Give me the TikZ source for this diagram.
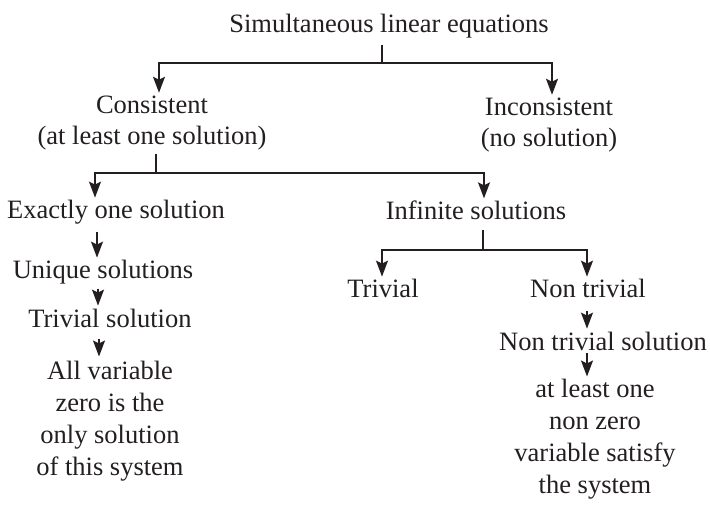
\documentclass[tikz,border=0pt]{standalone}
\usepackage{fontspec}
\setmainfont{Liberation Serif}
\usetikzlibrary{arrows.meta}
\definecolor{ink}{RGB}{35,31,32}
\begin{document}
\begin{tikzpicture}[x=1pt,y=-1pt,
  lbl/.style={font=\fontsize{26.5}{31.7}\selectfont, inner sep=0pt, inner ysep=3pt, outer sep=0pt, text=ink, align=center},
  conn/.style={draw=ink, line width=1.6pt},
  arr/.style={conn, -{Stealth[length=16pt,width=12pt,inset=3pt]}}]
\useasboundingbox (0,0) rectangle (710,505);
\node[lbl, anchor=base] (t) at (389,33) {Simultaneous linear equations};
\node[lbl, anchor=base] (c) at (152,145) {Consistent\\(at least one solution)};
\node[lbl, anchor=base] (inc) at (549,147) {Inconsistent\\(no solution)};
\node[lbl, anchor=base] (e1) at (116,219) {Exactly one solution};
\node[lbl, anchor=base] (u) at (103,279) {Unique solutions};
\node[lbl, anchor=base] (tv) at (110,327) {Trivial solution};
\node[lbl, anchor=base] (allv) at (110,475) {All variable\\zero is the\\only solution\\of this system};
\node[lbl, anchor=base] (inf) at (476,220) {Infinite solutions};
\node[lbl, anchor=base] (triv) at (383,298) {Trivial};
\node[lbl, anchor=base] (nt) at (588,298) {Non trivial};
\node[lbl, anchor=base] (nts) at (603,350) {Non trivial solution};
\node[lbl, anchor=base] (alo) at (595,493) {at least one\\non zero\\variable satisfy\\the system};
% level 1
\coordinate (j1) at (382,63);
\draw[conn] (t.south -| j1) ++(0,3) -- (j1);
\draw[arr] (j1) -| ([xshift=7pt]c.north);
\draw[arr] (j1) -| ([xshift=3pt]inc.north);
% level 2
\coordinate (j2) at (156,173);
\draw[conn] (c.south -| j2) -- (j2);
\draw[arr] (j2) -| ([xshift=-21pt]e1.north);
\draw[arr] (j2) -| ([xshift=8pt]inf.north);
% left chain
\draw[arr] ([xshift=-19pt,yshift=-4pt]e1.south) -- ([xshift=-6pt]u.north);
\draw[arr] ([xshift=-5pt,yshift=-1pt]u.south) -- ([xshift=-12pt]tv.north);
\draw[arr] ([xshift=-11pt,yshift=-9pt]tv.south) -- ([xshift=-11pt,yshift=2pt]allv.north);
% infinite
\coordinate (j3) at (483,250);
\draw[conn] (inf.south -| j3) ++(0,7) -- (j3);
\draw[arr] (j3) -| ([xshift=-1pt]triv.north);
\draw[arr] (j3) -| ([xshift=-1pt]nt.north);
\draw[arr] ([xshift=-1pt,yshift=-10pt]nt.south) -- ([xshift=-16pt]nts.north);
\draw[arr] ([xshift=-16pt]nts.south) -- ([xshift=-8pt]alo.north);
\end{tikzpicture}
\end{document}
